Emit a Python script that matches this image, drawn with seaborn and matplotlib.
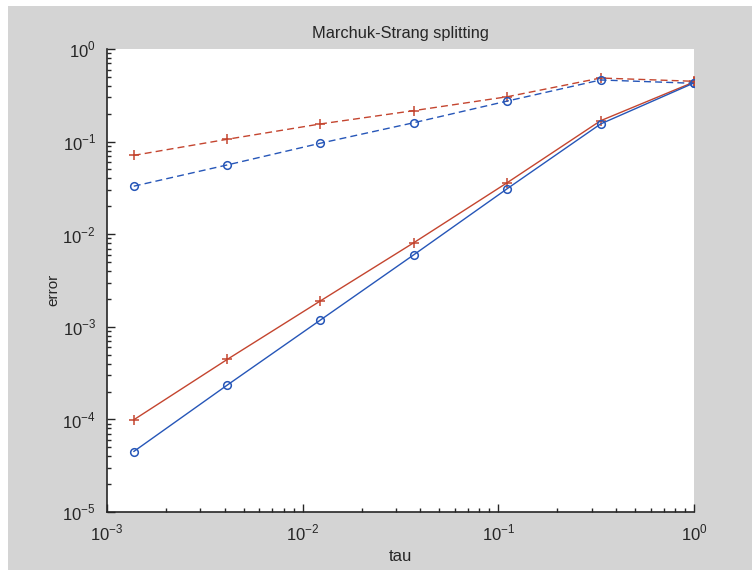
import matplotlib
matplotlib.use("Agg")
import matplotlib.pyplot as plt
import matplotlib.patches as mpatches
import pandas as pd
import seaborn as sns

# step sizes and errors
tau = [0.00137, 0.00412, 0.0123, 0.037, 0.111, 0.333, 1.0]
err_red_solid = [9.9e-5, 4.45e-4, 1.9e-3, 8.1e-3, 0.036, 0.168, 0.44]
err_blue_solid = [4.5e-5, 2.35e-4, 1.18e-3, 6.0e-3, 0.031, 0.155, 0.43]
err_red_dash = [0.071, 0.106, 0.155, 0.216, 0.305, 0.486, 0.448]
err_blue_dash = [0.033, 0.056, 0.096, 0.16, 0.274, 0.463, 0.426]

series = {
    "red_solid": err_red_solid,
    "blue_solid": err_blue_solid,
    "red_dash": err_red_dash,
    "blue_dash": err_blue_dash,
}
df = pd.concat(
    [pd.DataFrame({"tau": tau, "error": v, "series": k}) for k, v in series.items()],
    ignore_index=True,
)

sns.set_style("ticks")
plt.rcParams["font.family"] = ["Liberation Sans", "DejaVu Sans"]
plt.rcParams["mathtext.fontset"] = "custom"
plt.rcParams["mathtext.rm"] = "Liberation Sans"

red = "#c4452f"
blue = "#2656b8"
styles = {
    "red_solid": dict(color=red, ls="-", marker="+"),
    "blue_solid": dict(color=blue, ls="-", marker="o"),
    "red_dash": dict(color=red, ls=(0, (5, 3)), marker="+"),
    "blue_dash": dict(color=blue, ls=(0, (5, 3)), marker="o"),
}

fig = plt.figure(figsize=(7.53, 5.70), dpi=100)
fig.patch.set_facecolor("white")
# gray window background like the original figure
fig.patches.append(mpatches.Rectangle((8 / 753, 0), 744 / 753, 564 / 570,
                                      transform=fig.transFigure, facecolor="#d4d4d4",
                                      edgecolor="none", zorder=-10))
ax = fig.add_axes([107 / 753, 58 / 570, 587 / 753, 463 / 570])
ax.set_facecolor("white")

for name, st in styles.items():
    sub = df[df["series"] == name]
    sns.lineplot(data=sub, x="tau", y="error", ax=ax, color=st["color"],
                 linestyle=st["ls"], marker=st["marker"], linewidth=1.0,
                 markersize=7 if st["marker"] == "+" else 5.5,
                 markerfacecolor="none" if st["marker"] == "o" else st["color"],
                 markeredgecolor=st["color"], markeredgewidth=1.1,
                 legend=False, sort=False)

ax.set_xscale("log")
ax.set_yscale("log")
ax.set_xlim(1e-3, 1)
ax.set_ylim(1e-5, 1)
ax.set_xticks([1e-3, 1e-2, 1e-1, 1])
ax.set_yticks([1e-5, 1e-4, 1e-3, 1e-2, 1e-1, 1])
ax.set_xticklabels([r"$10^{-3}$", r"$10^{-2}$", r"$10^{-1}$", r"$10^{0}$"])
ax.set_yticklabels([r"$10^{-5}$", r"$10^{-4}$", r"$10^{-3}$", r"$10^{-2}$", r"$10^{-1}$", r"$10^{0}$"])
ax.tick_params(which="major", direction="in", length=6, width=1, labelsize=12, pad=8)
ax.tick_params(which="minor", direction="in", length=3, width=1)
for s in ["top", "right"]:
    ax.spines[s].set_visible(False)
for s in ["left", "bottom"]:
    ax.spines[s].set_linewidth(1.2)

ax.set_title("Marchuk-Strang splitting", fontsize=11.8, pad=8)
ax.set_xlabel("tau", fontsize=12, labelpad=4)
ax.set_ylabel("error", fontsize=11)
ax.yaxis.set_label_coords((60 - 107) / 587, 0.48)

fig.savefig("out.png", dpi=100)
